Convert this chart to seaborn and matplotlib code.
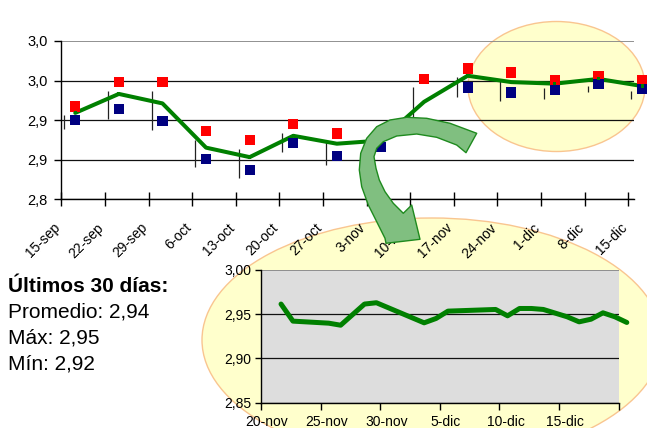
import numpy as np
import matplotlib
matplotlib.use("Agg")
import matplotlib.pyplot as plt
import matplotlib.transforms as mtransforms
from matplotlib.patches import Ellipse, Polygon
import seaborn as sns

# ---------------- data ----------------
week_labels = ['15-sep', '22-sep', '29-sep', '6-oct', '13-oct', '20-oct', '27-oct',
               '3-nov', '10-nov', '17-nov', '24-nov', '1-dic', '8-dic', '15-dic']
week_max = [2.917, 2.948, 2.948, 2.886, 2.875, 2.895, 2.883,
            2.881, 2.952, 2.965, 2.960, 2.951, 2.955, 2.950]
week_min = [2.900, 2.914, 2.899, 2.851, 2.837, 2.871, 2.854,
            2.866, 2.891, 2.941, 2.935, 2.938, 2.946, 2.939]
week_avg = [2.909, 2.933, 2.921, 2.865, 2.853, 2.880, 2.870,
            2.874, 2.923, 2.956, 2.948, 2.946, 2.952, 2.943]
range_high = [2.906, 2.937, 2.937, 2.875, 2.863, 2.883, 2.873,
              2.873, 2.942, 2.954, 2.949, 2.940, 2.943, 2.937]
range_low = [2.889, 2.901, 2.887, 2.840, 2.826, 2.860, 2.843,
             2.856, 2.902, 2.929, 2.924, 2.927, 2.935, 2.927]
main_ytick_vals = [2.80, 2.85, 2.90, 2.95, 3.00]
main_ytick_labels = ['2,8', '2,9', '2,9', '3,0', '3,0']

# daily series (days after 20-nov)
daily_days = [1, 2, 5, 6, 8, 9, 13, 14, 15, 19, 20, 21, 22, 23, 25, 26, 27, 28, 29, 30]
daily_vals = [2.9615, 2.9422, 2.9399, 2.9376, 2.9615, 2.9630, 2.9403, 2.9452, 2.9535,
              2.9554, 2.9482, 2.9565, 2.9565, 2.9554, 2.9471, 2.9414, 2.9444, 2.9516,
              2.9471, 2.9407]
inset_xtick_vals = [0, 5, 10, 15, 20, 25, 30]
inset_xtick_labels = ['20-nov', '25-nov', '30-nov', '5-dic', '10-dic', '15-dic', '']
inset_ytick_vals = [2.85, 2.90, 2.95, 3.00]
inset_ytick_labels = ['2,85', '2,90', '2,95', '3,00']

summary_title = 'Últimos 30 días:'
summary_lines = ['Promedio: 2,94', 'Máx: 2,95', 'Mín: 2,92']

# ---------------- style ----------------
sns.set_theme(style="white")
plt.rcParams['font.family'] = ['Liberation Sans', 'DejaVu Sans']

W, H = 647, 428
fig = plt.figure(figsize=(W / 100, H / 100), dpi=100)
fig.patch.set_facecolor('white')


def fx(px):
    return px / W


def fy(py):
    return 1 - py / H


GREEN = '#008000'

# ---------------- decorative ellipses ----------------
fig.add_artist(Ellipse((fx(556.5), fy(86.5)), 177 / W, 130 / H, transform=fig.transFigure,
                       facecolor='#FFFFCC', edgecolor='#F9C590', lw=1.0, zorder=0.5))
fig.add_artist(Ellipse((fx(432), fy(340)), 460 / W, 244 / H, transform=fig.transFigure,
                       facecolor='#FFFFCC', edgecolor='#F9C590', lw=1.0, zorder=0.5))

# ---------------- main chart ----------------
ax = fig.add_axes([fx(61.3), fy(199), 572.7 / W, 158 / H])
ax.set_zorder(1)
ax.patch.set_alpha(0)

idx = np.arange(len(week_labels))
pt_x = idx + 0.32
bar_x = idx + 0.07

ax.vlines(bar_x, range_low, range_high, colors='#222222', lw=0.9, zorder=2)
sns.lineplot(x=pt_x, y=week_avg, color=GREEN, lw=2.9, ax=ax, zorder=3, legend=False)
sns.scatterplot(x=pt_x, y=week_max, marker='s', s=55, color='#FF0000', edgecolor='none',
                ax=ax, zorder=4, legend=False)
sns.scatterplot(x=pt_x, y=week_min, marker='s', s=55, color='#000080', edgecolor='none',
                ax=ax, zorder=4, legend=False)
sns.scatterplot(x=pt_x, y=week_avg, marker='s', s=5, color=GREEN, edgecolor='none',
                ax=ax, zorder=5, legend=False)
for art in list(ax.lines) + list(ax.collections):
    art.set_clip_on(False)

ax.set_xlim(0, 13.135)
ax.set_ylim(2.80, 3.00)
ax.set_xticks(idx)
ax.set_xticklabels(week_labels, rotation=45, ha='right', va='center',
                   rotation_mode='anchor', fontsize=10)
ax.set_yticks(main_ytick_vals)
ax.set_yticklabels(main_ytick_labels, fontsize=10.5)
ax.yaxis.grid(True, color='#111111', lw=0.9)
ax.xaxis.grid(False)
ax.get_ygridlines()[-1].set_color('#888888')
ax.get_ygridlines()[-1].set_linewidth(1.3)
for s in ['top', 'right']:
    ax.spines[s].set_visible(False)
for s in ['left', 'bottom']:
    ax.spines[s].set_color('black')
    ax.spines[s].set_linewidth(1.0)
ax.tick_params(axis='y', direction='out', length=5, width=1, color='black', pad=5,
               left=True, labelcolor='black')
ax.tick_params(axis='x', direction='inout', length=10, width=1, color='black', pad=4,
               bottom=True, labelcolor='black')
lab_off = mtransforms.ScaledTranslation(-0.03, -0.14, fig.dpi_scale_trans)
for lab in ax.get_xticklabels():
    lab.set_transform(lab.get_transform() + lab_off)
ax.set_xlabel('')
ax.set_ylabel('')

# ---------------- inset chart ----------------
ax2 = fig.add_axes([fx(261), fy(402.7), 357.7 / W, 132.7 / H])
ax2.set_zorder(1)
ax2.set_facecolor('#DDDDDD')
sns.lineplot(x=np.array(daily_days) + 0.68, y=daily_vals, color=GREEN, lw=3.6,
             ax=ax2, legend=False, zorder=3)
for art in ax2.lines:
    art.set_clip_on(False)
    art.set_solid_joinstyle('round')
ax2.set_xlim(0, 30)
ax2.set_ylim(2.85, 3.00)
ax2.set_xticks(inset_xtick_vals)
ax2.set_xticklabels(inset_xtick_labels, fontsize=10)
ax2.set_yticks(inset_ytick_vals)
ax2.set_yticklabels(inset_ytick_labels, fontsize=10)
ax2.yaxis.grid(True, color='#111111', lw=0.9)
ax2.xaxis.grid(False)
ax2.get_ygridlines()[-1].set_color('#888888')
ax2.get_ygridlines()[-1].set_linewidth(1.3)
for s in ['top', 'right']:
    ax2.spines[s].set_visible(False)
for s in ['left', 'bottom']:
    ax2.spines[s].set_color('black')
    ax2.spines[s].set_linewidth(1.0)
ax2.tick_params(axis='y', direction='out', length=4, width=1, color='black', pad=3,
                left=True, labelcolor='black')
ax2.tick_params(axis='x', direction='out', length=5, width=1, color='black', pad=4,
                bottom=True, labelcolor='black')
offset = mtransforms.ScaledTranslation(0.06, 0, fig.dpi_scale_trans)
for lab in ax2.get_xticklabels():
    lab.set_transform(lab.get_transform() + offset)
ax2.set_xlabel('')
ax2.set_ylabel('')

# ---------------- summary text ----------------
fig.text(fx(8), fy(291.7), summary_title, fontsize=15, fontweight='bold',
         va='baseline', ha='left', color='black')
for i, line in enumerate(summary_lines):
    fig.text(fx(8), fy(317.3 + i * 26.3), line, fontsize=15, va='baseline',
             ha='left', color='black')

# ---------------- curved arrow (decoration) ----------------
arrow_px = [(476.7, 133.3), (450, 123.3), (426.7, 118.3), (406.7, 117.3), (390, 120),
            (376.7, 126.7), (366.7, 138.3), (360.7, 153.3), (359.3, 170), (361.7, 186.7),
            (368.3, 205), (376.7, 221.7), (385, 238.3), (386, 243.3),
            (420, 239.3), (411.7, 205), (403.3, 213.3),
            (393.3, 203.3), (385, 191.7), (379.3, 180), (376, 168.3), (374, 156.7),
            (376.7, 148.3), (383.3, 141.7), (396.7, 136), (416.7, 134), (436.7, 137.3),
            (456.7, 145), (466, 152.7)]
arrow_pts = [(fx(x), fy(y)) for x, y in arrow_px]
fig.add_artist(Polygon(arrow_pts, closed=True, transform=fig.transFigure,
                       facecolor='#80BF80', edgecolor='#1E8A1E', lw=1.0, zorder=3,
                       joinstyle='round'))

fig.savefig('out.png', dpi=100)
